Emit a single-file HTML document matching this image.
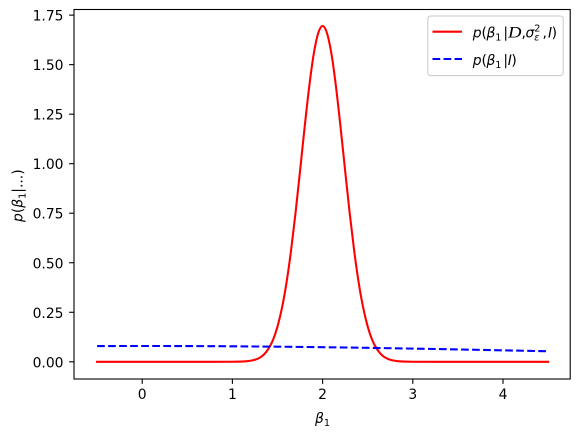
<!DOCTYPE html>
<html>
<head>
<meta charset="utf-8">
<style>
html,body{margin:0;padding:0;background:#fff;}
svg{display:block;}
text{font-family:"DejaVu Sans","Liberation Sans",sans-serif;fill:#000;font-size:13.9px;}
.mi{font-style:italic;}
</style>
</head>
<body>
<svg id="chart" width="580" height="436" viewBox="0 0 580 436" xmlns="http://www.w3.org/2000/svg">
  <rect x="74" y="9.5" width="496" height="369.5" fill="#fff"/>
  <g id="marks"></g>
  <g id="axes"></g>
  <rect x="74" y="9.5" width="496.2" height="369.5" fill="none" stroke="#000" stroke-width="1.1"/>
  <text x="315" y="423" class="mi">β<tspan dy="3" font-size="9.7" font-style="normal">1</tspan></text>
  <text transform="translate(22.5,222) rotate(-90)" class="mi">p<tspan font-style="normal">(</tspan>β<tspan dy="3" font-size="9.7" font-style="normal">1</tspan><tspan dy="-3" font-style="normal">|...)</tspan></text>
  <g>
    <rect x="427.8" y="16" width="135.4" height="59.6" rx="2.8" fill="#fff" fill-opacity="0.8" stroke="#ccc" stroke-width="1.1"/>
    <line x1="432.5" y1="31.7" x2="462" y2="31.7" stroke="#f00" stroke-width="2.08"/>
    <text x="472.7" y="37.5" class="mi">p<tspan x="481.5" font-style="normal">(</tspan><tspan x="486.5">β</tspan><tspan x="495.3" dy="3" font-size="9.7" font-style="normal">1</tspan><tspan x="503.4" dy="-3" font-style="normal">|</tspan><tspan x="508" font-family="Liberation Serif" font-size="15.5" textLength="13.5" lengthAdjust="spacingAndGlyphs">D</tspan><tspan x="521.5" font-style="normal">,</tspan><tspan x="525.5">σ</tspan><tspan x="534.3" dy="-6" font-size="9.7" font-style="normal">2</tspan><tspan x="534.3" dy="9" font-size="9.7">ε</tspan><tspan x="542.5" dy="-3" font-style="normal">,</tspan><tspan x="548">I</tspan><tspan x="551.6" font-style="normal">)</tspan></text>
    <line x1="432.5" y1="59" x2="462" y2="59" stroke="#00f" stroke-width="2.08" stroke-dasharray="7.7 3.33"/>
    <text x="472.7" y="65" class="mi">p<tspan x="481.5" font-style="normal">(</tspan><tspan x="486.5">β</tspan><tspan x="495.3" dy="3" font-size="9.7" font-style="normal">1</tspan><tspan x="503.4" dy="-3" font-style="normal">|</tspan><tspan x="507.8">I</tspan><tspan x="511.4" font-style="normal">)</tspan></text>
  </g>
</svg>
<script>
var xTicks = ["0", "1", "2", "3", "4"];
var yTicks = ["0.00", "0.25", "0.50", "0.75", "1.00", "1.25", "1.50", "1.75"];
var posteriorX = [-0.5, 0, 0.5, 1, 1.1, 1.15, 1.2, 1.25, 1.3, 1.35, 1.4, 1.45, 1.5, 1.55, 1.6, 1.65, 1.7, 1.75, 1.8, 1.85, 1.9, 1.95, 2, 2.05, 2.1, 2.15, 2.2, 2.25, 2.3, 2.35, 2.4, 2.45, 2.5, 2.55, 2.6, 2.65, 2.7, 2.75, 2.8, 2.85, 2.9, 3, 3.5, 4, 4.5];
var posteriorY = [0, 0, 0, 0.0002, 0.0011, 0.0025, 0.0052, 0.0106, 0.02, 0.037, 0.066, 0.11, 0.178, 0.273, 0.4, 0.561, 0.752, 0.964, 1.181, 1.383, 1.549, 1.657, 1.695, 1.657, 1.549, 1.383, 1.181, 0.964, 0.752, 0.561, 0.4, 0.273, 0.178, 0.11, 0.066, 0.037, 0.02, 0.0106, 0.0052, 0.0025, 0.0011, 0.0002, 0, 0, 0];
var priorX = [-0.5, 0, 0.5, 1, 1.5, 2, 2.5, 3, 3.5, 4, 4.5];
var priorY = [0.0794, 0.0798, 0.0794, 0.0782, 0.0763, 0.0737, 0.0704, 0.0666, 0.0624, 0.0579, 0.0532];

var NS = 'http://www.w3.org/2000/svg';
function xScale(v) { return 142.2 + v * 90.2; }
function yScale(v) { return 361.8 - v * 198.1; }
function smoothPath(xs, ys) {
  var pts = xs.map(function (x, i) { return [xScale(x), yScale(ys[i])]; });
  var d = 'M' + pts[0][0].toFixed(2) + ' ' + pts[0][1].toFixed(2);
  for (var i = 0; i < pts.length - 1; i++) {
    var p0 = pts[Math.max(i - 1, 0)], p1 = pts[i], p2 = pts[i + 1], p3 = pts[Math.min(i + 2, pts.length - 1)];
    var seg = p2[0] - p1[0];
    var m1 = (p2[1] - p0[1]) / (p2[0] - p0[0]);
    var m2 = (p3[1] - p1[1]) / (p3[0] - p1[0]);
    d += 'C' + (p1[0] + seg / 3).toFixed(2) + ' ' + (p1[1] + m1 * seg / 3).toFixed(2) + ' ' +
         (p2[0] - seg / 3).toFixed(2) + ' ' + (p2[1] - m2 * seg / 3).toFixed(2) + ' ' +
         p2[0].toFixed(2) + ' ' + p2[1].toFixed(2);
  }
  return d;
}
var marks = document.getElementById('marks');
var axes = document.getElementById('axes');

var posterior = document.createElementNS(NS, 'path');


posterior.setAttribute('d', smoothPath(posteriorX, posteriorY));
posterior.setAttribute('fill', 'none');
posterior.setAttribute('stroke', '#f00');
posterior.setAttribute('stroke-width', '2.08');
posterior.setAttribute('stroke-linejoin', 'round');
posterior.setAttribute('stroke-linecap', 'square');
marks.appendChild(posterior);

var prior = document.createElementNS(NS, 'path');


prior.setAttribute('d', smoothPath(priorX, priorY));
prior.setAttribute('fill', 'none');
prior.setAttribute('stroke', '#00f');
prior.setAttribute('stroke-width', '2.08');
prior.setAttribute('stroke-dasharray', '7.7 3.33');
marks.appendChild(prior);

xTicks.forEach(function (label) {
  var px = xScale(parseFloat(label));
  var tick = document.createElementNS(NS, 'line');
  
  
  tick.setAttribute('x1', px);
  tick.setAttribute('x2', px);
  tick.setAttribute('y1', 379);
  tick.setAttribute('y2', 383.9);
  tick.setAttribute('stroke', '#000');
  tick.setAttribute('stroke-width', '1.1');
  axes.appendChild(tick);
  var text = document.createElementNS(NS, 'text');
  
  
  text.setAttribute('x', px);
  text.setAttribute('y', 399);
  text.setAttribute('text-anchor', 'middle');
  text.textContent = label;
  axes.appendChild(text);
});

yTicks.forEach(function (label) {
  var py = yScale(parseFloat(label));
  var tick = document.createElementNS(NS, 'line');
  
  
  tick.setAttribute('x1', 69.1);
  tick.setAttribute('x2', 74);
  tick.setAttribute('y1', py);
  tick.setAttribute('y2', py);
  tick.setAttribute('stroke', '#000');
  tick.setAttribute('stroke-width', '1.1');
  axes.appendChild(tick);
  var text = document.createElementNS(NS, 'text');
  
  
  text.setAttribute('x', 63.5);
  text.setAttribute('y', py + 5.5);
  text.setAttribute('text-anchor', 'end');
  text.textContent = label;
  axes.appendChild(text);
});
</script>
</body>
</html>
